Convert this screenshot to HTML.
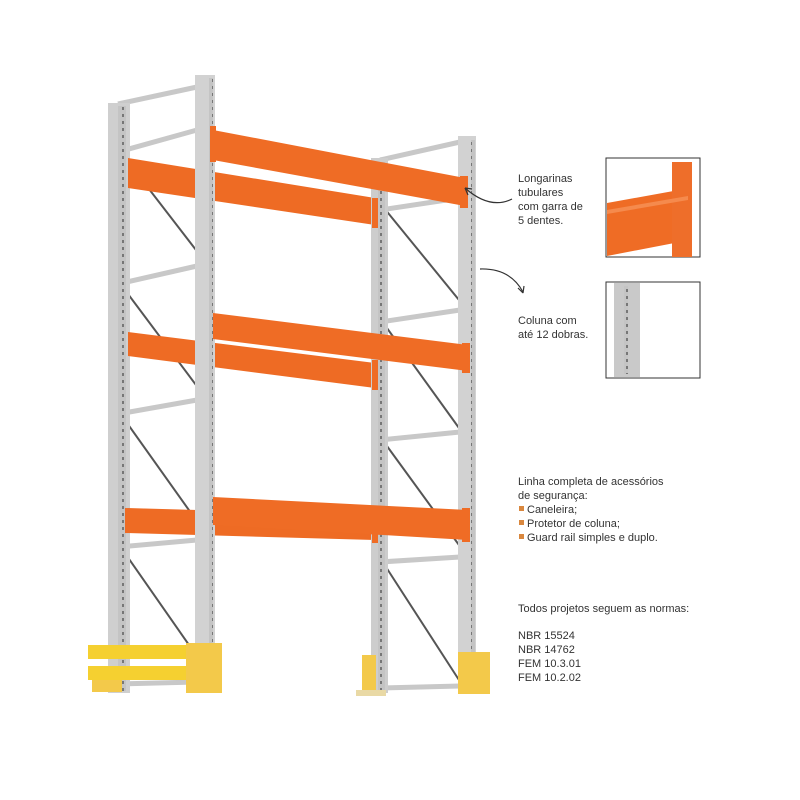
<!DOCTYPE html>
<html><head><meta charset="utf-8"><style>
html,body{margin:0;padding:0;background:#fff;width:800px;height:800px;overflow:hidden}
svg text{font-family:"Liberation Sans",sans-serif;font-size:11px;fill:#333}
</style></head><body>
<svg width="800" height="800" viewBox="0 0 800 800" xmlns="http://www.w3.org/2000/svg">
<defs>
<pattern id="holes" width="6" height="7" patternUnits="userSpaceOnUse">
<rect width="6" height="7" fill="#c4c4c4"/><rect x="2" y="2" width="2" height="3" fill="#777"/>
</pattern>
</defs>
<!-- left frame struts -->
<g stroke="#c8c8c8" stroke-width="5" fill="none">
<line x1="118" y1="104" x2="197" y2="87"/>
<line x1="118" y1="152" x2="197" y2="130"/>
<line x1="118" y1="284" x2="197" y2="266"/>
<line x1="118" y1="414" x2="197" y2="400"/>
<line x1="118" y1="547" x2="197" y2="540"/>
<line x1="118" y1="684" x2="197" y2="682"/>
<line x1="380" y1="160" x2="460" y2="142"/>
<line x1="380" y1="210" x2="460" y2="198"/>
<line x1="380" y1="322" x2="460" y2="310"/>
<line x1="380" y1="440" x2="460" y2="432"/>
<line x1="380" y1="562" x2="460" y2="557"/>
<line x1="380" y1="688" x2="460" y2="686"/>
</g>
<g stroke="#555" stroke-width="2" fill="none">
<line x1="122" y1="154" x2="196" y2="250"/>
<line x1="122" y1="286" x2="196" y2="385"/>
<line x1="122" y1="416" x2="196" y2="520"/>
<line x1="122" y1="549" x2="196" y2="655"/>
<line x1="384" y1="208" x2="459" y2="300"/>
<line x1="384" y1="324" x2="459" y2="428"/>
<line x1="384" y1="442" x2="459" y2="545"/>
<line x1="384" y1="564" x2="459" y2="680"/>
</g>
<!-- post A -->
<rect x="108" y="103" width="22" height="590" fill="#cfcfcf"/>
<rect x="118" y="106" width="8" height="585" fill="url(#holes)"/>
<!-- back beams -->
<g fill="#ee6b24">
<polygon points="128,158 375,198 375,225 128,188"/>
<polygon points="128,332 375,363 375,388 128,356"/>
<polygon points="125,508 375,515 375,540 125,533"/>
</g>
<!-- post B -->
<rect x="195" y="75" width="20" height="618" fill="#d2d2d2"/>
<rect x="209" y="78" width="4" height="612" fill="url(#holes)"/>
<!-- post C -->
<rect x="371" y="158" width="17" height="535" fill="#cdcdcd"/>
<rect x="378" y="162" width="7" height="528" fill="url(#holes)"/>
<!-- post D -->
<rect x="458" y="136" width="18" height="557" fill="#d2d2d2"/>
<rect x="471" y="140" width="4" height="550" fill="url(#holes)"/>
<!-- front beams -->
<g fill="#ef6c25">
<polygon points="213,130 465,178 465,206 213,160"/>
<polygon points="213,313 468,345 468,371 213,339"/>
<polygon points="213,497 468,510 468,540 213,525"/>
<rect x="460" y="176" width="8" height="32"/>
<rect x="462" y="343" width="8" height="30"/>
<rect x="462" y="508" width="8" height="34"/>
<rect x="210" y="126" width="6" height="36"/>
<rect x="372" y="198" width="6" height="30"/>
<rect x="372" y="360" width="6" height="30"/>
<rect x="372" y="513" width="6" height="30"/>
</g>
<!-- guards -->
<g fill="#f3c94a">
<rect x="88" y="645" width="120" height="14" fill="#f5d030"/>
<rect x="88" y="666" width="120" height="14" fill="#f5d030"/>
<rect x="92" y="680" width="30" height="12"/>
<rect x="186" y="643" width="36" height="50"/>
<rect x="362" y="655" width="14" height="40"/>
<rect x="458" y="652" width="32" height="42"/>
<rect x="356" y="690" width="30" height="6" fill="#e9d9a5"/>
</g>
<!-- arrows -->
<g stroke="#333" stroke-width="1.2" fill="none">
<path d="M512,199 Q490,210 465,188"/>
<path d="M465,188 l3,7 M465,188 l7,1"/>
<path d="M480,269 Q510,268 523,292"/>
<path d="M523,293 l-5,-5 M523,293 l1,-7"/>
</g>
<!-- texts -->
<text x="518" y="182">Longarinas</text>
<text x="518" y="196">tubulares</text>
<text x="518" y="210">com garra de</text>
<text x="518" y="224">5 dentes.</text>
<text x="518" y="324">Coluna com</text>
<text x="518" y="338">até 12 dobras.</text>
<text x="518" y="485">Linha completa de acessórios</text>
<text x="518" y="499">de segurança:</text>
<rect x="519" y="506" width="5" height="5" fill="#d9873e"/><text x="527" y="513">Caneleira;</text>
<rect x="519" y="520" width="5" height="5" fill="#d9873e"/><text x="527" y="527">Protetor de coluna;</text>
<rect x="519" y="534" width="5" height="5" fill="#d9873e"/><text x="527" y="541">Guard rail simples e duplo.</text>
<text x="518" y="612">Todos projetos seguem as normas:</text>
<text x="518" y="639">NBR 15524</text>
<text x="518" y="653">NBR 14762</text>
<text x="518" y="667">FEM 10.3.01</text>
<text x="518" y="681">FEM 10.2.02</text>
<!-- inset 1 -->
<rect x="606" y="158" width="94" height="99" fill="#fff" stroke="#333" stroke-width="1"/>
<polygon points="607,203 690,188 690,240 607,256" fill="#ef6c25"/>
<rect x="672" y="162" width="20" height="95" fill="#ee6e2a"/>
<polygon points="607,210 688,196 688,200 607,214" fill="#f58a4d"/>
<!-- inset 2 -->
<rect x="606" y="282" width="94" height="96" fill="#fff" stroke="#333" stroke-width="1"/>
<rect x="614" y="283" width="26" height="94" fill="#c9c9c9"/>
<rect x="624" y="286" width="4" height="88" fill="url(#holes)"/>
</svg>
</body></html>
